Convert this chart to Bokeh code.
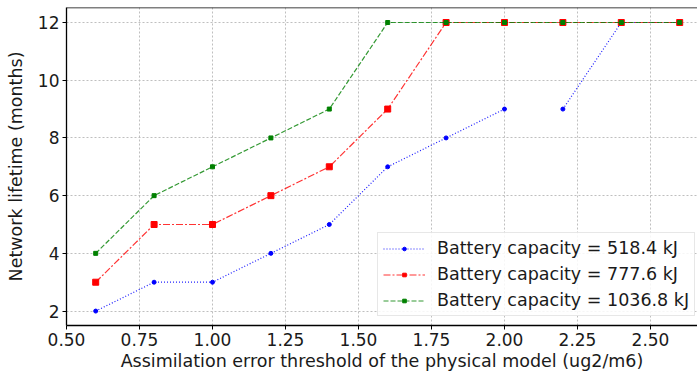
from bokeh.plotting import figure
from bokeh.models import Legend, LegendItem, FixedTicker, Range1d, Span
from bokeh.embed import file_html
from bokeh.resources import INLINE

thresholds = [0.6, 0.8, 1.0, 1.2, 1.4, 1.6, 1.8, 2.0, 2.2, 2.4, 2.6]
life_518 = [2, 3, 3, 4, 5, 7, 8, 9, 9, 12, 12]
life_777 = [3, 5, 5, 6, 7, 9, 12, 12, 12, 12, 12]
life_1036 = [4, 6, 7, 8, 9, 12, 12, 12, 12, 12, 12]
labels = ["Battery capacity = 518.4 kJ", "Battery capacity = 777.6 kJ",
          "Battery capacity = 1036.8 kJ"]
x_ticks = [0.5, 0.75, 1.0, 1.25, 1.5, 1.75, 2.0, 2.25, 2.5]
x_tick_labels = ["0.50", "0.75", "1.00", "1.25", "1.50", "1.75", "2.00", "2.25", "2.50"]
y_ticks = [2, 4, 6, 8, 10, 12]

FONT = "DejaVu Sans"
Y_TOP = 12.52

p = figure(width=697, height=374, output_backend="svg", toolbar_location=None,
           x_range=Range1d(0.5, 2.661), y_range=Range1d(1.5, Y_TOP),
           min_border_left=66, min_border_right=0, min_border_top=7, min_border_bottom=49)
p.outline_line_color = None

for ax in (p.xaxis[0], p.yaxis[0]):
    ax.major_label_text_font = FONT
    ax.major_label_text_font_size = "17px"
    ax.major_label_text_color = "#1a1a1a"
    ax.axis_label_text_font = FONT
    ax.axis_label_text_font_size = "17.5px"
    ax.axis_label_text_font_style = "normal"
    ax.axis_label_text_color = "#1a1a1a"
    ax.axis_line_color = "black"
    ax.axis_line_width = 1.3
    ax.major_tick_out = 4
    ax.major_tick_in = 0
    ax.minor_tick_out = 0
    ax.minor_tick_in = 0

p.xaxis.major_label_standoff = 3
p.xaxis.axis_label_standoff = 2
p.yaxis.major_label_standoff = 3
p.yaxis.axis_label_standoff = 9

p.xaxis.ticker = FixedTicker(ticks=x_ticks)
p.xaxis.major_label_overrides = {t: l for t, l in zip(x_ticks, x_tick_labels)}
p.yaxis.ticker = FixedTicker(ticks=y_ticks)
p.xaxis.axis_label = "Assimilation error threshold of the physical model (ug2/m6)"
p.yaxis.axis_label = "Network lifetime (months)"

p.xgrid.grid_line_color = "#b8b8b8"
p.ygrid.grid_line_color = "#b8b8b8"
p.xgrid.grid_line_dash = "2 2"
p.ygrid.grid_line_dash = "2 2"
p.xgrid.grid_line_width = 0.9
p.ygrid.grid_line_width = 0.9

p.add_layout(Span(location=Y_TOP, dimension="width", line_color="black", line_width=1.5))

# Blue series (gap between 2.0 and 2.2 as in the original)
b1 = p.line(thresholds[:8], life_518[:8], color="blue", line_dash="1 2", line_width=1.2, line_alpha=0.9)
b2 = p.line(thresholds[8:], life_518[8:], color="blue", line_dash="1 2", line_width=1.2, line_alpha=0.9)
bs = p.scatter(thresholds, life_518, marker="circle", size=4, color="blue")

r1 = p.line(thresholds, life_777, color="red", line_dash="7 2 2 2", line_width=1.2, line_alpha=0.8)
rs = p.scatter(thresholds, life_777, marker="square", size=6, color="red")

g1 = p.line(thresholds, life_1036, color="green", line_dash="5 2", line_width=1.2, line_alpha=0.8)
gs = p.scatter(thresholds, life_1036, marker="square", size=4, color="green")

legend = Legend(items=[
    LegendItem(label=labels[0], renderers=[b1, bs]),
    LegendItem(label=labels[1], renderers=[r1, rs]),
    LegendItem(label=labels[2], renderers=[g1, gs]),
], location=(311, 9))
legend.label_text_font = FONT
legend.label_text_font_size = "17.5px"
legend.label_text_color = "#1a1a1a"
legend.glyph_width = 42
legend.glyph_height = 9
legend.label_height = 20
legend.spacing = 6
legend.padding = 5
legend.margin = 0
legend.label_standoff = 12
legend.border_line_color = "#d0d0d0"
legend.border_line_width = 1
legend.background_fill_alpha = 0.85
p.add_layout(legend)

open("out.html", "w").write(file_html(p, INLINE))
